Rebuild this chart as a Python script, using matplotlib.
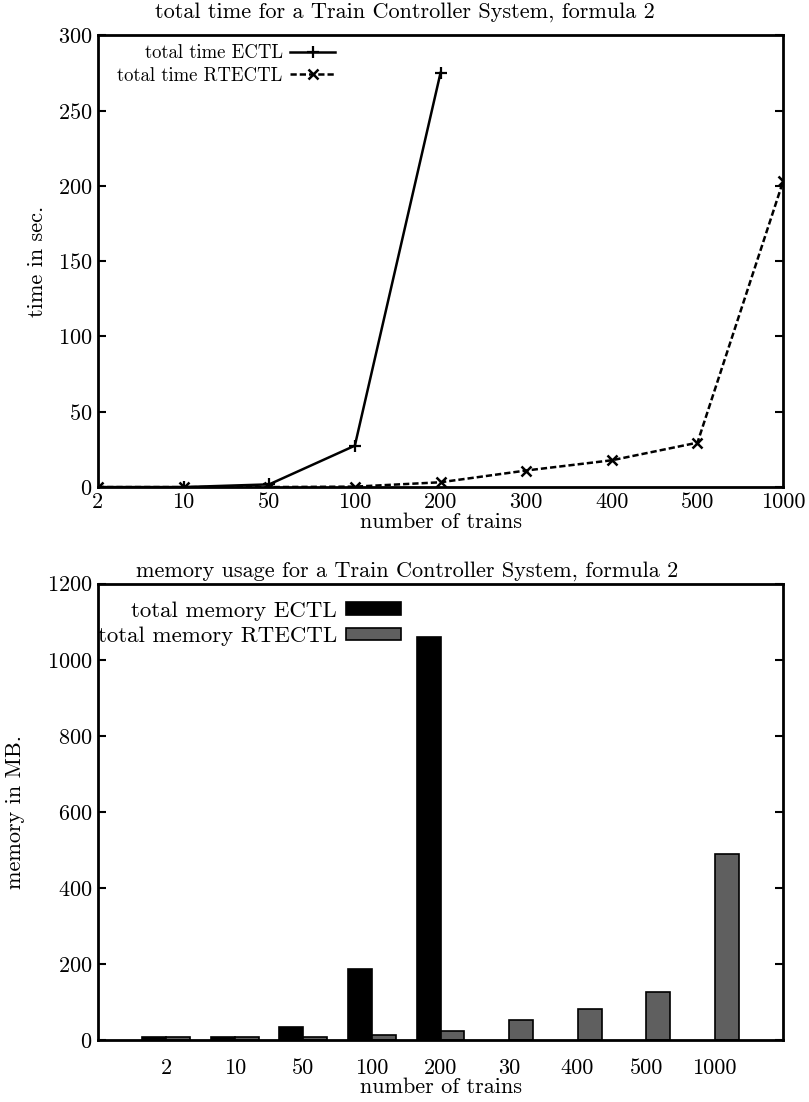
import matplotlib
matplotlib.use("Agg")
import matplotlib.pyplot as plt
import numpy as np

# Data
time_trains = ["2", "10", "50", "100", "200", "300", "400", "500", "1000"]
time_ectl = [0, 0, 1.8, 27.5, 275]
time_rtectl = [0, 0, 0, 0.3, 3.2, 11, 17.8, 29.5, 203]

mem_trains = ["2", "10", "50", "100", "200", "30", "400", "500", "1000"]
mem_ectl = [8, 8, 34, 186, 1060]
mem_rtectl = [8, 8, 8, 13, 24, 53, 81, 125, 490]

plt.rcParams["font.family"] = ["cmr10", "DejaVu Serif"]
plt.rcParams["axes.formatter.use_mathtext"] = True
plt.rcParams["font.size"] = 16

fig = plt.figure(figsize=(8.09, 11.02), dpi=100)

# Top: total time line chart
ax1 = fig.add_axes([0.121, 0.558, 0.847, 0.410])
x = np.arange(len(time_trains))
ax1.plot(x[:len(time_ectl)], time_ectl, color="black", linewidth=1.8,
         marker="+", markersize=9, markeredgewidth=1.6, label="total time ECTL")
ax1.plot(x, time_rtectl, color="black", linewidth=1.8, linestyle=(0, (2.5, 1.2)),
         marker="x", markersize=7, markeredgewidth=1.8, label="total time RTECTL")
ax1.set_xlim(0, len(time_trains) - 1)
ax1.set_ylim(0, 300)
ax1.set_xticks(x)
ax1.set_xticklabels(time_trains)
ax1.set_yticks(np.arange(0, 301, 50))
ax1.tick_params(axis="y", direction="in", right=True, length=6, width=1.5, pad=4)
ax1.tick_params(axis="x", length=0, pad=4)
# title is centred on the figure, not the axes
fig.text(0.5, 0.989, "total time for a Train Controller System, formula 2",
         ha="center", va="center", fontsize=16)
ax1.set_xlabel("number of trains", labelpad=0)
ax1.set_ylabel("time in sec.", labelpad=8)
for s in ax1.spines.values():
    s.set_linewidth(2)
ax1.legend(loc="upper left", bbox_to_anchor=(0.012, 1.005), frameon=False, markerfirst=False,
           handlelength=2.4, handletextpad=0.4, fontsize=13.5, labelspacing=0.25, borderaxespad=0.2)

# Bottom: memory usage bar chart
ax2 = fig.add_axes([0.121, 0.0563, 0.847, 0.414])
xb = np.arange(len(mem_trains))
w = 0.35
ax2.bar(xb[:len(mem_ectl)] - w / 2, mem_ectl, width=w, color="black",
        edgecolor="black", linewidth=1.2, label="total memory ECTL")
ax2.bar(xb + w / 2, mem_rtectl, width=w, color="#5f5f5f",
        edgecolor="black", linewidth=1.2, label="total memory RTECTL")
ax2.set_xlim(-1, len(mem_trains))
ax2.set_ylim(0, 1200)
ax2.set_xticks(xb)
ax2.set_xticklabels(mem_trains)
ax2.set_yticks(np.arange(0, 1201, 200))
ax2.tick_params(axis="y", direction="in", right=True, length=6, width=1.5, pad=4)
ax2.tick_params(axis="x", length=0, pad=13)
fig.text(0.503, 0.482, "memory usage for a Train Controller System, formula 2",
         ha="center", va="center", fontsize=16)
ax2.set_xlabel("number of trains", labelpad=0)
ax2.set_ylabel("memory in MB.", labelpad=16)
for s in ax2.spines.values():
    s.set_linewidth(2)
ax2.legend(loc="upper left", bbox_to_anchor=(-0.02, 0.992), frameon=False, markerfirst=False,
           handlelength=2.4, handleheight=0.45, handletextpad=0.4, fontsize=16.5,
           labelspacing=0.25, borderaxespad=0.2)

fig.savefig("out.png", dpi=100)
